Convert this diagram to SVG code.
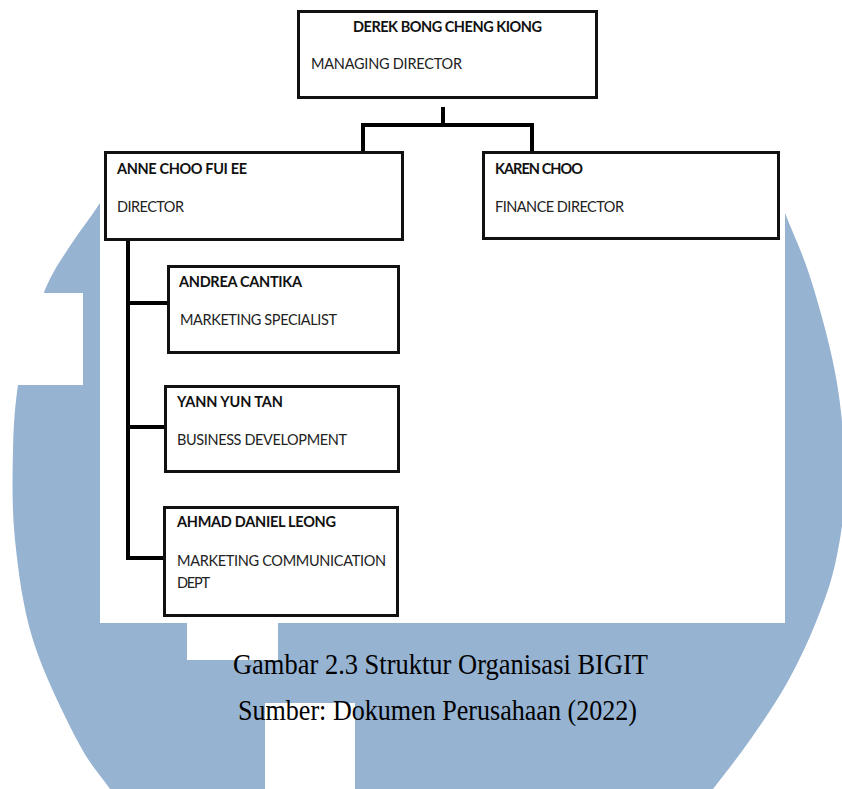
<svg xmlns="http://www.w3.org/2000/svg" width="842" height="789" viewBox="0 0 842 789">
<style>
.bg{fill:#ffffff}
.wm{fill:#96b3d2}
.cut{fill:#ffffff}
.box{fill:#ffffff;stroke:#111111;stroke-width:3}
.con{fill:none;stroke:#000000;stroke-width:4;stroke-linejoin:miter}
.nm{font-family:Lato,"Open Sans","Liberation Sans",sans-serif;font-size:14.5px;font-weight:bold;fill:#111111}
.rl{font-family:Lato,"Open Sans","Liberation Sans",sans-serif;font-size:14.5px;fill:#222222}
.cap{font-family:"Liberation Serif","Times New Roman",serif;font-size:29px;fill:#000000}
</style>
<rect class="bg" x="0" y="0" width="842" height="789"/>
<g id="watermark">
<path class="wm" d="M785,213 C793.67,235.17 803.33,254.67 812,283 C820.67,311.33 831.5,349.67 837,383 C842.5,416.33 845.17,453.5 845,483 C844.83,512.5 840.83,536.83 836,560 C831.17,583.17 824.17,601.5 816,622 C807.83,642.5 798,663.33 787,683 C776,702.67 762.33,722.33 750,740 C737.67,757.67 724.67,774 713,789 C701.33,804 727.17,811.5 680,830 C632.83,848.5 520,900 430,900 C340,900 193.33,848.5 140,830 C86.67,811.5 120.5,804 110,789 C99.5,774 89.83,764.83 77,740 C64.17,715.17 43.33,673.33 33,640 C22.67,606.67 18.33,571.67 15,540 C11.67,508.33 12.5,475.83 13,450 C13.5,424.17 15.17,404.33 18,385 C20.83,365.67 25,351 30,334 C35,317 41,298.17 48,283 C55,267.83 63.33,256.33 72,243 C80.67,229.67 91.17,216.83 100,203 L125,160 L440,60 L760,150 Z"/>
<rect class="cut" x="0" y="293" width="83" height="92"/>
<rect class="cut" x="187" y="600" width="91" height="60"/>
<rect class="cut" x="265" y="703" width="90" height="90"/>
</g>
<rect class="bg" x="100" y="0" width="685" height="623"/>
<g id="connectors">
<path class="con" d="M443,107 V125"/>
<path class="con" d="M363,151 V125 H532 V151"/>
<path class="con" d="M128,241 V558 H163"/>
<path class="con" d="M128,303 H167"/>
<path class="con" d="M128,427 H164"/>
</g>
<g id="derek">
<rect class="box" x="298.5" y="11.5" width="298" height="86"/>
<text class="nm" x="353" y="32" textLength="189">DEREK BONG CHENG KIONG</text>
<text class="rl" x="311" y="69" textLength="151">MANAGING DIRECTOR</text>
</g>
<g id="anne">
<rect class="box" x="105.5" y="152.5" width="297" height="87"/>
<text class="nm" x="117" y="174" textLength="130">ANNE CHOO FUI EE</text>
<text class="rl" x="117" y="212" textLength="67">DIRECTOR</text>
</g>
<g id="karen">
<rect class="box" x="483.5" y="152.5" width="295" height="86"/>
<text class="nm" x="495" y="174" textLength="88">KAREN CHOO</text>
<text class="rl" x="495" y="212" textLength="129">FINANCE DIRECTOR</text>
</g>
<g id="andrea">
<rect class="box" x="168.5" y="266.5" width="230" height="86"/>
<text class="nm" x="179" y="287" textLength="123">ANDREA CANTIKA</text>
<text class="rl" x="180" y="325" textLength="157">MARKETING SPECIALIST</text>
</g>
<g id="yann">
<rect class="box" x="165.5" y="386.5" width="233" height="85"/>
<text class="nm" x="177" y="407" textLength="106">YANN YUN TAN</text>
<text class="rl" x="177" y="445" textLength="170">BUSINESS DEVELOPMENT</text>
</g>
<g id="ahmad">
<rect class="box" x="164.5" y="507.5" width="233" height="108"/>
<text class="nm" x="177" y="527" textLength="159">AHMAD DANIEL LEONG</text>
<text class="rl" x="177" y="566" textLength="209">MARKETING COMMUNICATION</text>
<text class="rl" x="177" y="588" textLength="33">DEPT</text>
</g>
<g id="caption">
<text class="cap" x="233" y="674" textLength="415" lengthAdjust="spacingAndGlyphs">Gambar 2.3 Struktur Organisasi BIGIT</text>
<text class="cap" x="238" y="720" textLength="399" lengthAdjust="spacingAndGlyphs">Sumber: Dokumen Perusahaan (2022)</text>
</g>
</svg>
